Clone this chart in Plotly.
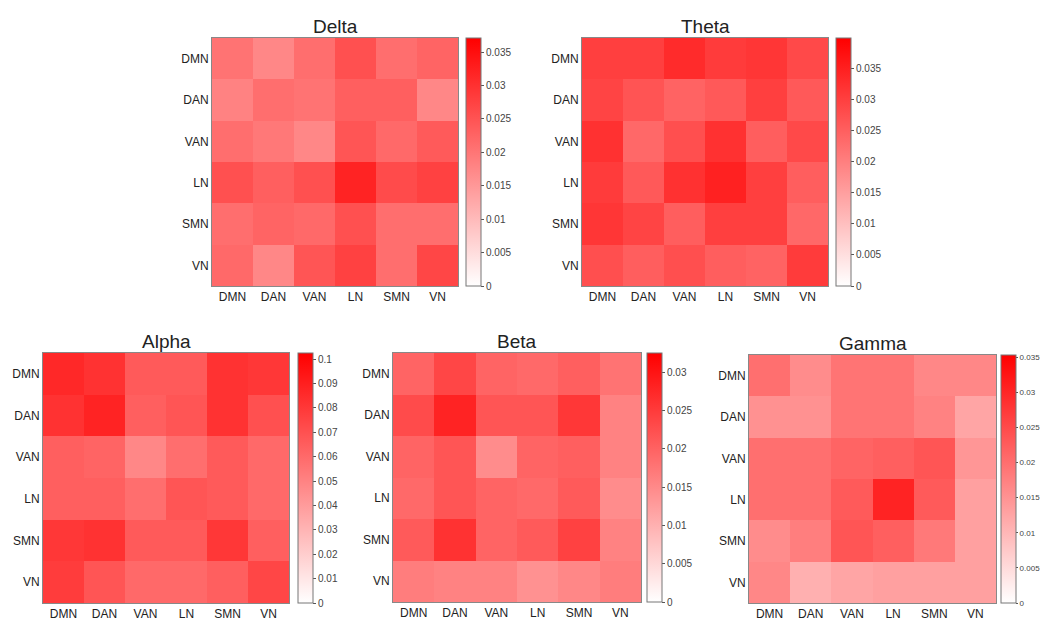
import plotly.graph_objects as go

networks = ["DMN", "DAN", "VAN", "LN", "SMN", "VN"]

delta = [
    [0.0204, 0.0175, 0.0211, 0.0255, 0.0211, 0.0226],
    [0.0182, 0.0211, 0.0204, 0.0233, 0.0233, 0.0175],
    [0.0211, 0.0196, 0.0175, 0.0247, 0.0218, 0.0240],
    [0.0255, 0.0233, 0.0255, 0.0320, 0.0262, 0.0277],
    [0.0211, 0.0226, 0.0218, 0.0255, 0.0211, 0.0211],
    [0.0218, 0.0175, 0.0247, 0.0277, 0.0211, 0.0269],
]
theta = [
    [0.0300, 0.0300, 0.0331, 0.0307, 0.0315, 0.0284],
    [0.0292, 0.0268, 0.0244, 0.0260, 0.0300, 0.0260],
    [0.0323, 0.0236, 0.0276, 0.0323, 0.0252, 0.0284],
    [0.0307, 0.0260, 0.0323, 0.0347, 0.0300, 0.0252],
    [0.0315, 0.0292, 0.0252, 0.0300, 0.0300, 0.0236],
    [0.0276, 0.0252, 0.0276, 0.0252, 0.0244, 0.0307],
]
alpha = [
    [0.0864, 0.0824, 0.0663, 0.0663, 0.0824, 0.0804],
    [0.0824, 0.0884, 0.0643, 0.0683, 0.0824, 0.0703],
    [0.0643, 0.0623, 0.0482, 0.0583, 0.0663, 0.0603],
    [0.0643, 0.0643, 0.0583, 0.0683, 0.0663, 0.0603],
    [0.0804, 0.0824, 0.0663, 0.0663, 0.0804, 0.0643],
    [0.0784, 0.0683, 0.0603, 0.0603, 0.0643, 0.0744],
]
beta = [
    [0.0198, 0.0236, 0.0198, 0.0191, 0.0204, 0.0178],
    [0.0229, 0.0280, 0.0217, 0.0217, 0.0255, 0.0159],
    [0.0198, 0.0217, 0.0147, 0.0198, 0.0204, 0.0159],
    [0.0191, 0.0217, 0.0198, 0.0191, 0.0210, 0.0147],
    [0.0210, 0.0261, 0.0198, 0.0210, 0.0242, 0.0159],
    [0.0166, 0.0159, 0.0159, 0.0140, 0.0153, 0.0166],
]
gamma = [
    [0.0200, 0.0159, 0.0193, 0.0193, 0.0166, 0.0166],
    [0.0152, 0.0152, 0.0193, 0.0193, 0.0173, 0.0124],
    [0.0200, 0.0200, 0.0214, 0.0221, 0.0235, 0.0145],
    [0.0200, 0.0200, 0.0228, 0.0304, 0.0228, 0.0131],
    [0.0159, 0.0179, 0.0235, 0.0221, 0.0186, 0.0131],
    [0.0166, 0.0110, 0.0124, 0.0131, 0.0131, 0.0131],
]

titles = ["Delta", "Theta", "Alpha", "Beta", "Gamma"]
matrices = [delta, theta, alpha, beta, gamma]
zmaxes = [0.0371, 0.0399, 0.1025, 0.0325, 0.0353]
dticks = [0.005, 0.005, 0.01, 0.005, 0.005]
cb_font_sizes = [10, 10, 10, 10, 8]
cb_ticklens = [3, 3, 3, 3, 2]

# page has an 8px body margin; figure is drawn from (8, 8)
OFF = 8
W, H = 1049 - OFF, 622 - OFF
# pixel boxes (page coords) of heatmaps: (x0, x1, y0, y1) and colorbar left x
boxes = [
    (212, 458, 38, 286, 466),
    (582, 828, 38, 286, 836),
    (43, 289, 353, 603, 298),
    (393, 641, 353, 602, 647),
    (749, 996, 355, 603, 1001),
]

fig = go.Figure()
layout = dict(
    width=W, height=H,
    margin=dict(l=0, r=0, t=0, b=0),
    paper_bgcolor="white", plot_bgcolor="white",
    font=dict(family="Liberation Sans, Arial, sans-serif", color="#222"),
    annotations=[],
)

for i, (name, z, zmax, dt, box, cbfs, tl) in enumerate(
        zip(titles, matrices, zmaxes, dticks, boxes, cb_font_sizes, cb_ticklens)):
    x0, x1, y0, y1, cbx = [v - OFF for v in box]
    sfx = "" if i == 0 else str(i + 1)
    xa, ya = "x" + sfx, "y" + sfx
    fig.add_trace(go.Heatmap(
        z=z, x=networks, y=networks,
        xaxis=xa, yaxis=ya,
        zmin=0, zmax=zmax,
        colorscale=[[0, "#ffffff"], [1, "#ff0000"]],
        colorbar=dict(
            x=cbx / W, xanchor="left", xpad=0, ypad=0,
            y=1 - (y0 + y1) / 2 / H, yanchor="middle",
            len=(y1 - y0), lenmode="pixels",
            thickness=15, thicknessmode="pixels",
            outlinewidth=1, outlinecolor="#777",
            tick0=0, dtick=dt, ticks="outside", ticklen=tl, tickcolor="#555",
            tickfont=dict(size=cbfs, color="#444"),
        ),
    ))
    layout["xaxis" + sfx] = dict(
        domain=[x0 / W, x1 / W], anchor=ya,
        showline=True, mirror=True, linecolor="#888", linewidth=1,
        ticks="", showgrid=False, tickfont=dict(size=12, color="#222"),
        fixedrange=True,
    )
    layout["yaxis" + sfx] = dict(
        domain=[1 - y1 / H, 1 - y0 / H], anchor=xa,
        autorange="reversed",
        showline=True, mirror=True, linecolor="#888", linewidth=1,
        ticks="", showgrid=False, tickfont=dict(size=12, color="#222"),
        fixedrange=True,
    )
    layout["annotations"].append(dict(
        text=name, xref="paper", yref="paper",
        x=(x0 + x1) / 2 / W, y=1 - (y0 + 1) / H,
        xanchor="center", yanchor="bottom", showarrow=False,
        font=dict(size=19, color="#222"),
    ))

fig.update_layout(**layout)
fig.write_html("out.html")
